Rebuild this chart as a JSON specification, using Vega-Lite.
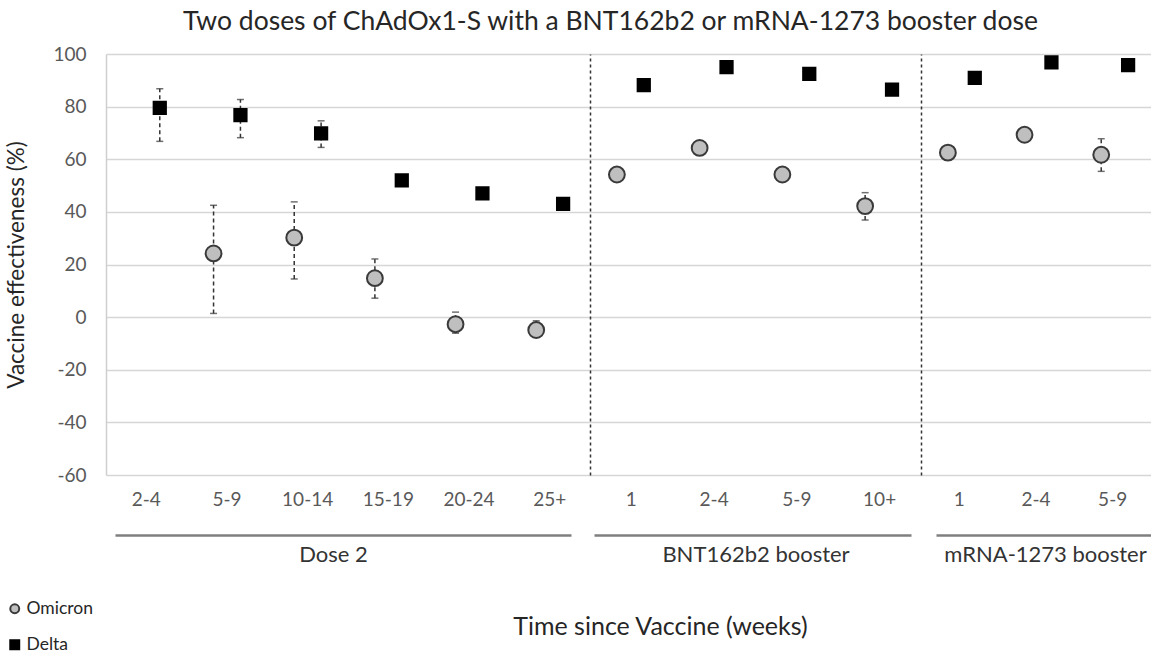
{
  "$schema": "https://vega.github.io/schema/vega-lite/v6.json",
  "background": "white",
  "padding": {"left": 5, "top": 8, "right": 0, "bottom": 0},
  "config": {
    "font": "Lato",
    "view": {"stroke": null},
    "axis": {"labelFont": "Lato", "titleFont": "Lato"},
    "legend": {"labelFont": "Lato"}
  },
  "title": {
    "text": "Two doses of ChAdOx1-S with a BNT162b2 or mRNA-1273 booster dose",
    "fontSize": 26.5, "fontWeight": "normal", "color": "#262626",
    "anchor": "middle", "dx": 32, "offset": 10
  },
  "data": {"values": [
    {"group": "Dose 2", "week": "2-4", "variant": "Delta", "ve": 79.5, "lo": 66.8, "hi": 86.8},
    {"group": "Dose 2", "week": "5-9", "variant": "Delta", "ve": 76.8, "lo": 68.2, "hi": 82.7},
    {"group": "Dose 2", "week": "10-14", "variant": "Delta", "ve": 69.8, "lo": 64.5, "hi": 74.6},
    {"group": "Dose 2", "week": "15-19", "variant": "Delta", "ve": 52.0, "lo": 50.5, "hi": 53.5},
    {"group": "Dose 2", "week": "20-24", "variant": "Delta", "ve": 47.0, "lo": 46.0, "hi": 48.0},
    {"group": "Dose 2", "week": "25+", "variant": "Delta", "ve": 43.0, "lo": 42.0, "hi": 44.0},
    {"group": "BNT162b2 booster", "week": "1", "variant": "Delta", "ve": 88.2, "lo": 87.0, "hi": 89.5},
    {"group": "BNT162b2 booster", "week": "2-4", "variant": "Delta", "ve": 95.0, "lo": 94.0, "hi": 96.0},
    {"group": "BNT162b2 booster", "week": "5-9", "variant": "Delta", "ve": 92.4, "lo": 91.5, "hi": 93.3},
    {"group": "BNT162b2 booster", "week": "10+", "variant": "Delta", "ve": 86.5, "lo": 84.5, "hi": 88.0},
    {"group": "mRNA-1273 booster", "week": "1", "variant": "Delta", "ve": 90.9, "lo": 89.8, "hi": 92.0},
    {"group": "mRNA-1273 booster", "week": "2-4", "variant": "Delta", "ve": 96.8, "lo": 96.0, "hi": 97.5},
    {"group": "mRNA-1273 booster", "week": "5-9", "variant": "Delta", "ve": 95.8, "lo": 94.8, "hi": 96.7},
    {"group": "Dose 2", "week": "5-9", "variant": "Omicron", "ve": 24.2, "lo": 1.4, "hi": 42.5},
    {"group": "Dose 2", "week": "10-14", "variant": "Omicron", "ve": 30.2, "lo": 14.5, "hi": 43.8},
    {"group": "Dose 2", "week": "15-19", "variant": "Omicron", "ve": 14.8, "lo": 7.2, "hi": 22.1},
    {"group": "Dose 2", "week": "20-24", "variant": "Omicron", "ve": -2.7, "lo": -6.1, "hi": 1.9},
    {"group": "Dose 2", "week": "25+", "variant": "Omicron", "ve": -4.9, "lo": -7.5, "hi": -1.4},
    {"group": "BNT162b2 booster", "week": "1", "variant": "Omicron", "ve": 54.2, "lo": 53.0, "hi": 55.5},
    {"group": "BNT162b2 booster", "week": "2-4", "variant": "Omicron", "ve": 64.3, "lo": 63.0, "hi": 65.5},
    {"group": "BNT162b2 booster", "week": "5-9", "variant": "Omicron", "ve": 54.2, "lo": 53.0, "hi": 55.5},
    {"group": "BNT162b2 booster", "week": "10+", "variant": "Omicron", "ve": 42.2, "lo": 36.9, "hi": 47.3},
    {"group": "mRNA-1273 booster", "week": "1", "variant": "Omicron", "ve": 62.5, "lo": 61.5, "hi": 63.5},
    {"group": "mRNA-1273 booster", "week": "2-4", "variant": "Omicron", "ve": 69.3, "lo": 68.3, "hi": 70.3},
    {"group": "mRNA-1273 booster", "week": "5-9", "variant": "Omicron", "ve": 61.7, "lo": 55.4, "hi": 67.8}
  ]},
  "vconcat": [
    {
      "title": {"text": "Time since Vaccine (weeks)", "orient": "bottom", "fontSize": 25, "fontWeight": "normal", "color": "#262626", "anchor": "middle", "dx": 82, "offset": 50},
      "spacing": 0,
      "bounds": "flush",
      "hconcat": [
        {
          "width": 484, "height": 421,
          "transform": [{"filter": "datum.group === 'Dose 2'"}],
          "encoding": {
            "x": {"field": "week", "type": "nominal", "sort": ["2-4", "5-9", "10-14", "15-19", "20-24", "25+"],
              "scale": {"paddingInner": 0, "paddingOuter": 0},
              "axis": {"title": "Dose 2", "labelAngle": 0, "ticks": false, "offset": 60, "labelPadding": -45,
                "labelFontSize": 19, "labelColor": "#595959", "domainColor": "#7f7f7f", "domainWidth": 2.5,
                "domainDash": [456, 200], "domainDashOffset": 647,
                "titleFontSize": 22, "titleFontWeight": "normal", "titleColor": "#333333", "titlePadding": 9, "titleX": 227}},
            "xOffset": {"field": "variant", "type": "nominal", "scale": {"type": "point", "domain": ["Omicron", "Delta"], "padding": 2.02}},
            "y": {"field": "ve", "type": "quantitative", "scale": {"domain": [-60, 100], "nice": false, "zero": false},
              "axis": {"title": "Vaccine effectiveness (%)", "values": [-60, -40, -20, 0, 20, 40, 60, 80, 100],
                "labelExpr": "'' + datum.value",
                "grid": true, "gridColor": "#d6d6d6", "gridWidth": 1.5, "ticks": false,
                "domainColor": "#cfcfcf", "domainWidth": 1.5, "labelFontSize": 19, "labelColor": "#595959", "labelPadding": 20,
                "titleFontSize": 22.5, "titleFontWeight": "normal", "titleColor": "#262626", "titlePadding": 24}}
          },
          "layer": [
            {"mark": {"type": "rule", "color": "#333333", "strokeWidth": 1.5, "strokeDash": [4, 3]},
              "encoding": {"y": {"field": "lo", "type": "quantitative"}, "y2": {"field": "hi"}}},
            {"mark": {"type": "tick", "orient": "horizontal", "color": "#333333", "size": 7, "thickness": 1.5},
              "encoding": {"y": {"field": "lo", "type": "quantitative"}}},
            {"mark": {"type": "tick", "orient": "horizontal", "color": "#333333", "size": 7, "thickness": 1.5},
              "encoding": {"y": {"field": "hi", "type": "quantitative"}}},
            {"transform": [{"filter": "datum.variant === 'Omicron'"}],
              "mark": {"type": "point", "filled": true, "strokeWidth": 2, "opacity": 1, "size": 250},
              "encoding": {
                "shape": {"field": "variant", "type": "nominal", "scale": {"domain": ["Omicron", "Delta"], "range": ["circle", "square"]},
                  "legend": {"title": null, "orient": "none", "legendX": -100, "legendY": 546, "direction": "vertical",
                    "labelFontSize": 17.5, "labelColor": "#262626", "symbolSize": 80, "rowPadding": 17, "labelOffset": 3, "symbolStrokeWidth": 2}},
                "fill": {"field": "variant", "type": "nominal", "scale": {"domain": ["Omicron", "Delta"], "range": ["#bfbfbf", "#000000"]},
                  "legend": {"title": null, "orient": "none", "legendX": -100, "legendY": 546, "direction": "vertical",
                    "labelFontSize": 17.5, "labelColor": "#262626", "symbolSize": 80, "rowPadding": 17, "labelOffset": 3, "symbolStrokeWidth": 2}},
                "stroke": {"field": "variant", "type": "nominal", "scale": {"domain": ["Omicron", "Delta"], "range": ["#3a3a3a", "#000000"]},
                  "legend": {"title": null, "orient": "none", "legendX": -100, "legendY": 546, "direction": "vertical",
                    "labelFontSize": 17.5, "labelColor": "#262626", "symbolSize": 80, "rowPadding": 17, "labelOffset": 3, "symbolStrokeWidth": 2}}
              }},
            {"transform": [{"filter": "datum.variant === 'Delta'"}],
              "mark": {"type": "point", "filled": true, "strokeWidth": 2, "opacity": 1, "size": 150},
              "encoding": {
                "shape": {"field": "variant", "type": "nominal"},
                "fill": {"field": "variant", "type": "nominal"},
                "stroke": {"field": "variant", "type": "nominal"}
              }}
          ]
        },
        {
          "width": 331, "height": 421,
          "transform": [{"filter": "datum.group === 'BNT162b2 booster'"}],
          "encoding": {
            "x": {"field": "week", "type": "nominal", "sort": ["1", "2-4", "5-9", "10+"],
              "scale": {"paddingInner": 0, "paddingOuter": 0},
              "axis": {"title": "BNT162b2 booster", "labelAngle": 0, "ticks": false, "offset": 60, "labelPadding": -45,
                "labelFontSize": 19, "labelColor": "#595959", "domainColor": "#7f7f7f", "domainWidth": 2.5,
                "domainDash": [317, 200], "domainDashOffset": 513,
                "titleFontSize": 22, "titleFontWeight": "normal", "titleColor": "#333333", "titlePadding": 9}},
            "xOffset": {"field": "variant", "type": "nominal", "scale": {"type": "point", "domain": ["Omicron", "Delta"], "padding": 2.09}},
            "y": {"field": "ve", "type": "quantitative", "scale": {"domain": [-60, 100], "nice": false, "zero": false},
              "axis": {"title": null, "values": [-60, -40, -20, 0, 20, 40, 60, 80, 100], "labels": false,
                "grid": true, "gridColor": "#d6d6d6", "gridWidth": 1.5, "ticks": false,
                "domainColor": "#333333", "domainWidth": 1.5, "domainDash": [3, 3]}}
          },
          "layer": [
            {"mark": {"type": "rule", "color": "#333333", "strokeWidth": 1.5, "strokeDash": [4, 3]},
              "encoding": {"y": {"field": "lo", "type": "quantitative"}, "y2": {"field": "hi"}}},
            {"mark": {"type": "tick", "orient": "horizontal", "color": "#333333", "size": 7, "thickness": 1.5},
              "encoding": {"y": {"field": "lo", "type": "quantitative"}}},
            {"mark": {"type": "tick", "orient": "horizontal", "color": "#333333", "size": 7, "thickness": 1.5},
              "encoding": {"y": {"field": "hi", "type": "quantitative"}}},
            {"transform": [{"filter": "datum.variant === 'Omicron'"}],
              "mark": {"type": "point", "filled": true, "strokeWidth": 2, "opacity": 1, "size": 250},
              "encoding": {
                "shape": {"field": "variant", "type": "nominal"},
                "fill": {"field": "variant", "type": "nominal"},
                "stroke": {"field": "variant", "type": "nominal"}
              }},
            {"transform": [{"filter": "datum.variant === 'Delta'"}],
              "mark": {"type": "point", "filled": true, "strokeWidth": 2, "opacity": 1, "size": 150},
              "encoding": {
                "shape": {"field": "variant", "type": "nominal"},
                "fill": {"field": "variant", "type": "nominal"},
                "stroke": {"field": "variant", "type": "nominal"}
              }}
          ]
        },
        {
          "width": 230, "height": 421,
          "transform": [{"filter": "datum.group === 'mRNA-1273 booster'"}],
          "encoding": {
            "x": {"field": "week", "type": "nominal", "sort": ["1", "2-4", "5-9"],
              "scale": {"paddingInner": 0, "paddingOuter": 0},
              "axis": {"title": "mRNA-1273 booster", "labelAngle": 0, "ticks": false, "offset": 60, "labelPadding": -45,
                "labelFontSize": 19, "labelColor": "#595959", "domainColor": "#7f7f7f", "domainWidth": 2.5,
                "domainDash": [215, 200], "domainDashOffset": 400,
                "titleFontSize": 22, "titleFontWeight": "normal", "titleColor": "#333333", "titlePadding": 9, "titleX": 124}},
            "xOffset": {"field": "variant", "type": "nominal", "scale": {"type": "point", "domain": ["Omicron", "Delta"], "padding": 1.9}},
            "y": {"field": "ve", "type": "quantitative", "scale": {"domain": [-60, 100], "nice": false, "zero": false},
              "axis": {"title": null, "values": [-60, -40, -20, 0, 20, 40, 60, 80, 100], "labels": false,
                "grid": true, "gridColor": "#d6d6d6", "gridWidth": 1.5, "ticks": false,
                "domainColor": "#333333", "domainWidth": 1.5, "domainDash": [3, 3]}}
          },
          "layer": [
            {"mark": {"type": "rule", "color": "#333333", "strokeWidth": 1.5, "strokeDash": [4, 3]},
              "encoding": {"y": {"field": "lo", "type": "quantitative"}, "y2": {"field": "hi"}}},
            {"mark": {"type": "tick", "orient": "horizontal", "color": "#333333", "size": 7, "thickness": 1.5},
              "encoding": {"y": {"field": "lo", "type": "quantitative"}}},
            {"mark": {"type": "tick", "orient": "horizontal", "color": "#333333", "size": 7, "thickness": 1.5},
              "encoding": {"y": {"field": "hi", "type": "quantitative"}}},
            {"transform": [{"filter": "datum.variant === 'Omicron'"}],
              "mark": {"type": "point", "filled": true, "strokeWidth": 2, "opacity": 1, "size": 250},
              "encoding": {
                "shape": {"field": "variant", "type": "nominal"},
                "fill": {"field": "variant", "type": "nominal"},
                "stroke": {"field": "variant", "type": "nominal"}
              }},
            {"transform": [{"filter": "datum.variant === 'Delta'"}],
              "mark": {"type": "point", "filled": true, "strokeWidth": 2, "opacity": 1, "size": 150},
              "encoding": {
                "shape": {"field": "variant", "type": "nominal"},
                "fill": {"field": "variant", "type": "nominal"},
                "stroke": {"field": "variant", "type": "nominal"}
              }}
          ]
        }
      ]
    }
  ]
}
